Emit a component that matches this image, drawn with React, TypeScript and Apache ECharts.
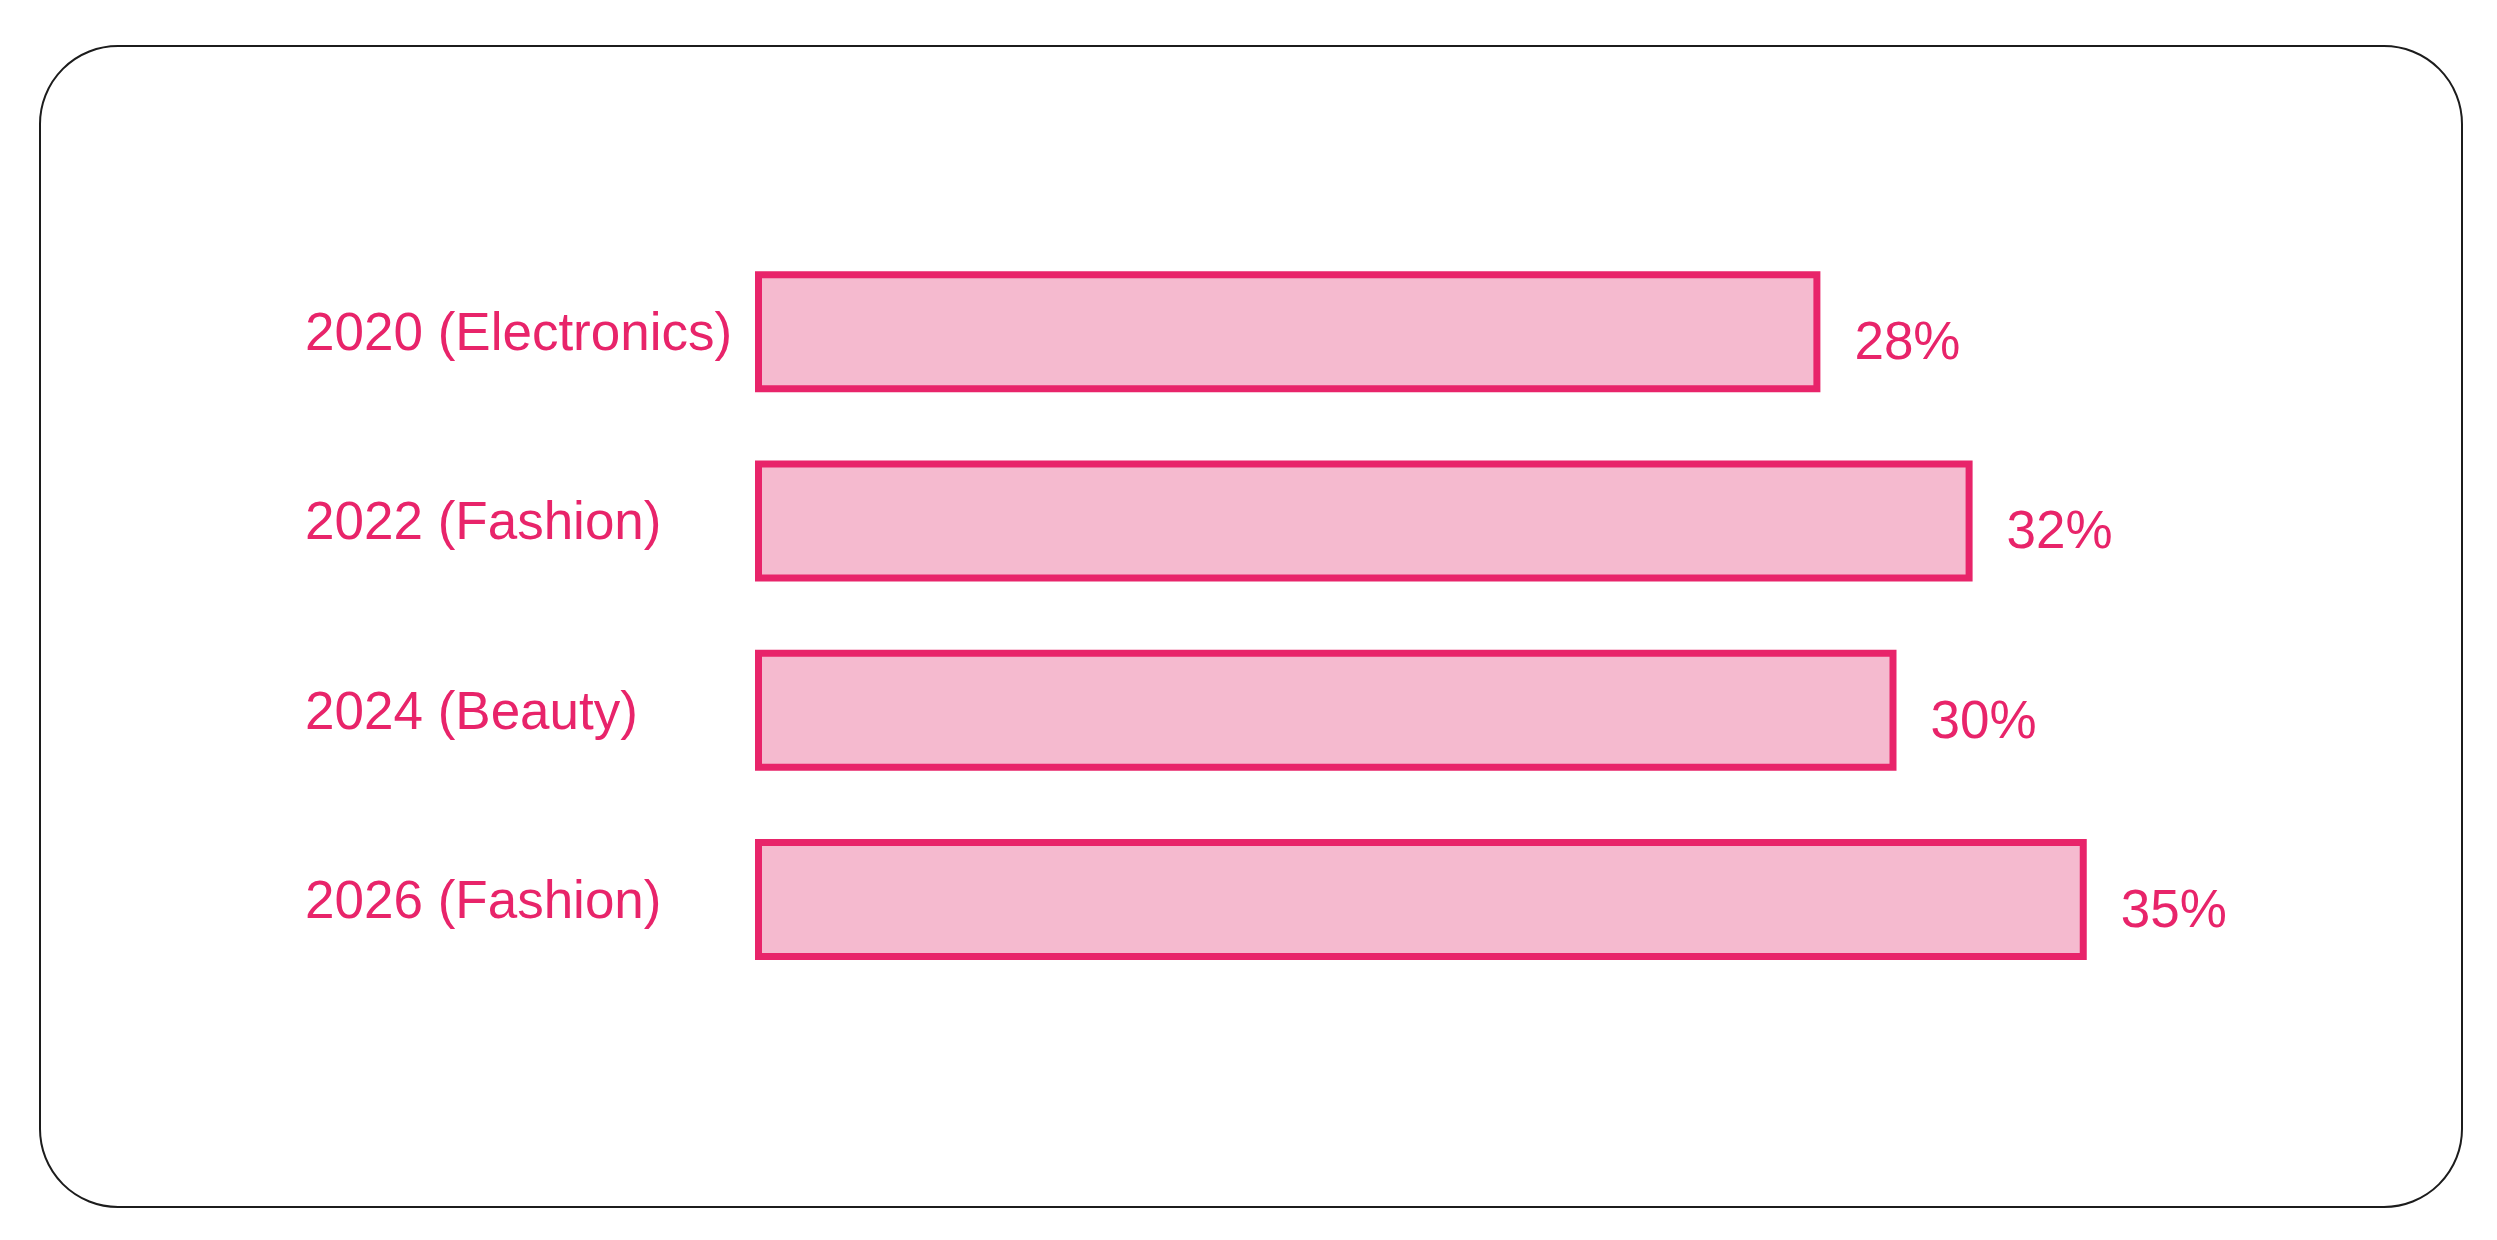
import * as echarts from "echarts";
import { useEffect, useRef } from "react";

const categories = [
  "2020 (Electronics)",
  "2022 (Fashion)",
  "2024 (Beauty)",
  "2026 (Fashion)",
];
const shares = [28, 32, 30, 35];

const PINK = "#E8246A";
const FILL = "#F5BACF";

const App = () => {
  const chartRef = useRef<HTMLDivElement>(null);

  useEffect(() => {
    if (!chartRef.current) return;

    const chart = echarts.init(chartRef.current, null, { renderer: "svg" });

    chart.setOption({
      animation: false,
      backgroundColor: "#ffffff",
      textStyle: { fontFamily: "Liberation Sans, Arial, sans-serif" },
      graphic: [
        {
          type: "rect",
          z: -1,
          shape: { x: 40, y: 46, width: 2422, height: 1161, r: 78 },
          style: { fill: "none", stroke: "#1c1c1c", lineWidth: 2 },
        },
      ],
      grid: { left: 755, top: 237, width: 1522, height: 757 },
      xAxis: { type: "value", min: 0, max: 40, show: false },
      yAxis: {
        type: "category",
        data: categories,
        inverse: true,
        axisLine: { show: false },
        axisTick: { show: false },
        axisLabel: {
          align: "left",
          margin: 450,
          color: PINK,
          fontSize: 53,
        },
      },
      series: [
        {
          type: "bar",
          data: shares,
          barWidth: 121,
          itemStyle: { color: FILL, borderColor: PINK, borderWidth: 7 },
          label: {
            show: true,
            position: "right",
            distance: 34,
            offset: [0, 9],
            formatter: "{c}%",
            color: PINK,
            fontSize: 53,
          },
        },
      ],
    });

    return () => {
      chart.dispose();
    };
  }, []);

  return (
    <div
      ref={chartRef}
      style={{ position: "fixed", left: 0, top: 0, width: 2497, height: 1240 }}
    />
  );
};

export default App;
